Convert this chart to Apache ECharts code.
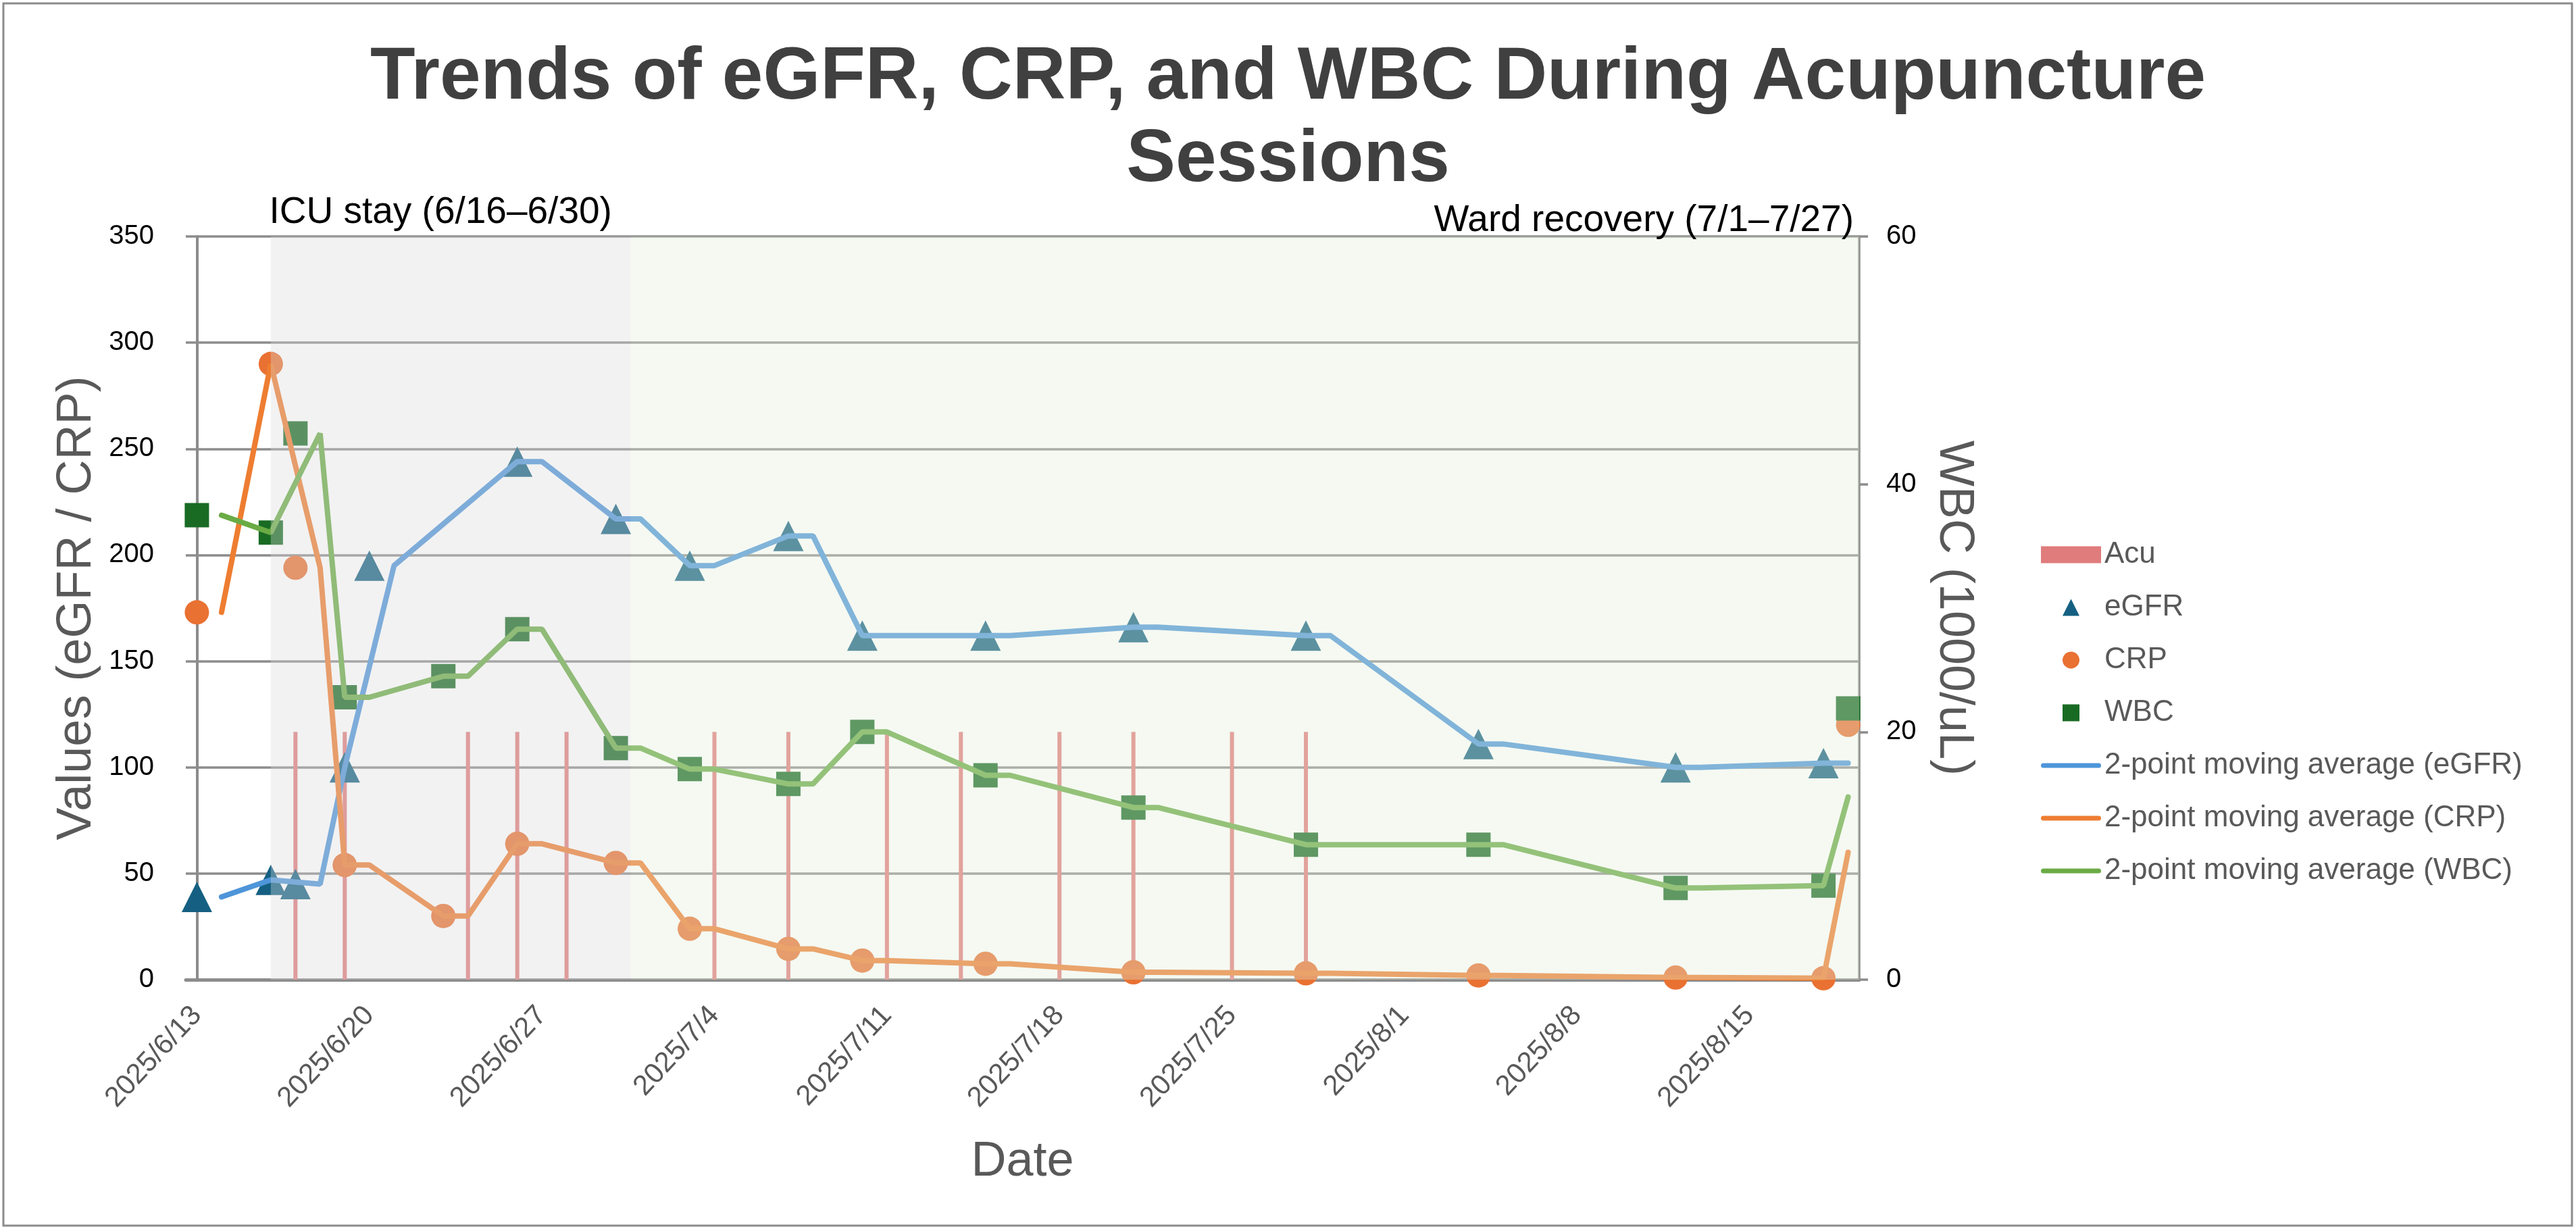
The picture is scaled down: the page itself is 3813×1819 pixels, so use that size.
<!DOCTYPE html>
<html>
<head>
<meta charset="utf-8">
<title>Trends of eGFR, CRP, and WBC During Acupuncture Sessions</title>
<script src="https://cdn.jsdelivr.net/npm/echarts@6/dist/echarts.min.js"></script>
<style>
  html, body { margin: 0; padding: 0; background: #fff; }
  #main { width: 3813px; height: 1819px; }
</style>
</head>
<body>
<div id="main"></div>
<script>
// lab results
const egfrDates = ["2025/6/13", "2025/6/16", "2025/6/17", "2025/6/19", "2025/6/20", "2025/6/26", "2025/6/30", "2025/7/3",
  "2025/7/7", "2025/7/10", "2025/7/15", "2025/7/21", "2025/7/28", "2025/8/4", "2025/8/12", "2025/8/18"];
const egfrValues = [39, 47, 45, 100, 195, 244, 217, 195, 209, 162, 162, 166, 162, 111, 100, 102];

// CRP and WBC share the same sampling days
const labDates = ["2025/6/13", "2025/6/16", "2025/6/17", "2025/6/19", "2025/6/23", "2025/6/26", "2025/6/30", "2025/7/3",
  "2025/7/7", "2025/7/10", "2025/7/15", "2025/7/21", "2025/7/28", "2025/8/4", "2025/8/12", "2025/8/18", "2025/8/19"];
const crpValues = [173, 290, 194, 54, 30, 64, 55, 24, 14.5, 9, 7.5, 3.5, 3, 2, 1, 0.7, 120];
const wbcValues = [37.5, 36.1, 44.1, 22.8, 24.5, 28.3, 18.7, 17.0, 15.8, 20.0, 16.5, 13.9, 10.9, 10.9, 7.4, 7.6, 21.9];

// 2-point moving average lines, as drawn
const maEgfrDates = ["2025/6/14", "2025/6/16", "2025/6/17", "2025/6/18", "2025/6/19", "2025/6/20", "2025/6/21", "2025/6/26",
  "2025/6/27", "2025/6/30", "2025/7/1", "2025/7/3", "2025/7/4", "2025/7/7", "2025/7/8", "2025/7/10", "2025/7/11",
  "2025/7/15", "2025/7/16", "2025/7/21", "2025/7/22", "2025/7/28", "2025/7/29", "2025/8/4", "2025/8/5", "2025/8/12",
  "2025/8/13", "2025/8/18", "2025/8/19"];
const maEgfrValues = [39, 47, 46, 45, 100, 147.5, 195, 244, 244, 217, 217, 195, 195, 209, 209, 162, 162,
  162, 162, 166, 166, 162, 162, 111, 111, 100, 100, 102, 102];

const maLabDates = ["2025/6/14", "2025/6/16", "2025/6/17", "2025/6/18", "2025/6/19", "2025/6/20", "2025/6/23", "2025/6/24",
  "2025/6/26", "2025/6/27", "2025/6/30", "2025/7/1", "2025/7/3", "2025/7/4", "2025/7/7", "2025/7/8", "2025/7/10",
  "2025/7/11", "2025/7/15", "2025/7/16", "2025/7/21", "2025/7/22", "2025/7/28", "2025/7/29", "2025/8/4", "2025/8/5",
  "2025/8/12", "2025/8/13", "2025/8/18", "2025/8/19"];
const maCrpValues = [173, 290, 242, 194, 54, 54, 30, 30, 64, 64, 55, 55, 24, 24, 14.5, 14.5, 9,
  9, 7.5, 7.5, 3.5, 3.5, 3, 3, 2, 2, 1, 1, 0.7, 60];
const maWbcValues = [37.5, 36.1, 40.1, 44.1, 22.8, 22.8, 24.5, 24.5, 28.3, 28.3, 18.7, 18.7, 17.0, 17.0, 15.8, 15.8, 20.0,
  20.0, 16.5, 16.5, 13.9, 13.9, 10.9, 10.9, 10.9, 10.9, 7.4, 7.4, 7.6, 14.75];

// acupuncture sessions (drawn against the WBC axis)
const acuDates = ["2025/6/17", "2025/6/19", "2025/6/24", "2025/6/26", "2025/6/28", "2025/7/4", "2025/7/7",
  "2025/7/11", "2025/7/14", "2025/7/18", "2025/7/21", "2025/7/25", "2025/7/28"];
const acuValues = [20, 20, 20, 20, 20, 20, 20, 20, 20, 20, 20, 20, 20];

const xTickLabels = ["2025/6/13", "2025/6/20", "2025/6/27", "2025/7/4", "2025/7/11", "2025/7/18",
  "2025/7/25", "2025/8/1", "2025/8/8", "2025/8/15"];

const icuStart = "2025/6/16";
const icuEnd = "2025/6/30";

// day numbers counted from the first sample
const DAY = 86400000;
const day0 = Date.UTC(2025, 5, 13);
function dayOf(s) {
  const [y, m, d] = s.split("/").map(Number);
  return (Date.UTC(y, m - 1, d) - day0) / DAY;
}
function pairs(dates, values) {
  return dates.map((d, i) => [dayOf(d), values[i]]);
}

const xMin = -0.45;
const xMax = dayOf("2025/8/19") + 0.45;
const phaseSplit = dayOf(icuEnd) + 0.6;
const xTickDays = xTickLabels.map(dayOf);

const font = "'Liberation Sans', Arial, sans-serif";
const axisGray = "#8c8c8c";
const textGray = "#595959";

const triangleIcon = "path://M5,0 L10,10 L0,10 Z";
const circleIcon = "path://M10,5 A5,5 0 1 1 0,5 A5,5 0 1 1 10,5 Z";
const squareIcon = "path://M0,0 L10,0 L10,10 L0,10 Z";
const lineIcon = "path://M3.5,0 L85.5,0 A3.5,3.5 0 0 1 85.5,7 L3.5,7 A3.5,3.5 0 0 1 3.5,0 Z";

const options = {
  backgroundColor: "#ffffff",
  textStyle: { fontFamily: font },
  title: {
    text: "Trends of eGFR, CRP, and WBC During Acupuncture\nSessions",
    left: "center",
    top: 50,
    textStyle: { fontFamily: font, fontSize: 109, fontWeight: "bold", color: "#404040", lineHeight: 122 },
  },
  graphic: [
    {
      type: "rect",
      shape: { x: 5, y: 5, width: 3802, height: 1809 },
      style: { fill: "none", stroke: axisGray, lineWidth: 3 },
      silent: true,
    },
  ],
  legend: {
    orient: "vertical",
    left: 3016,
    top: 794,
    itemWidth: 89,
    itemHeight: 25,
    itemGap: 34,
    textStyle: { fontFamily: font, fontSize: 44, color: textGray, lineHeight: 44 },
    data: [
      { name: "Acu", icon: "rect" },
      { name: "eGFR", icon: triangleIcon },
      { name: "CRP", icon: circleIcon },
      { name: "WBC", icon: squareIcon },
      { name: "2-point moving average (eGFR)", icon: lineIcon },
      { name: "2-point moving average (CRP)", icon: lineIcon },
      { name: "2-point moving average (WBC)", icon: lineIcon },
    ],
  },
  grid: { left: 275, right: 1061, top: 350, bottom: 369 },
  xAxis: {
    type: "value",
    min: xMin,
    max: xMax,
    name: "Date",
    nameLocation: "middle",
    nameGap: 234,
    nameTextStyle: { fontFamily: font, fontSize: 72, color: textGray },
    axisLine: { show: true, lineStyle: { color: axisGray, width: 5 } },
    axisTick: { show: false },
    splitLine: { show: false },
    axisLabel: {
      customValues: xTickDays,
      rotate: 47,
      margin: 46,
      fontSize: 42,
      color: textGray,
      fontFamily: font,
      formatter: (v) => xTickLabels[xTickDays.indexOf(Math.round(v))] || "",
    },
  },
  yAxis: [
    {
      type: "value",
      min: 0,
      max: 350,
      interval: 50,
      name: "Values (eGFR / CRP)",
      nameLocation: "middle",
      nameGap: 120,
      nameTextStyle: { fontFamily: font, fontSize: 72, color: textGray },
      axisLine: { show: true, lineStyle: { color: axisGray, width: 4 } },
      axisTick: { show: false },
      axisLabel: { fontSize: 40, color: "#000", margin: 47, fontFamily: font },
      splitLine: { lineStyle: { color: axisGray, width: 3.5 } },
    },
    {
      type: "value",
      min: 0,
      max: 60,
      interval: 20,
      position: "right",
      name: "WBC (1000/uL)",
      nameLocation: "middle",
      nameRotate: -90,
      nameGap: 104,
      nameTextStyle: { fontFamily: font, fontSize: 72, color: textGray },
      axisLine: { show: true, lineStyle: { color: axisGray, width: 3.5 } },
      axisTick: { show: true, length: 13, lineStyle: { color: axisGray, width: 3.5 } },
      axisLabel: { fontSize: 40, color: "#000", margin: 40, fontFamily: font },
      splitLine: { show: false },
    },
  ],
  series: [
    {
      name: "Acu",
      type: "bar",
      yAxisIndex: 1,
      barWidth: 6,
      itemStyle: { color: "#E07C7C" },
      data: pairs(acuDates, acuValues),
      z: 1,
    },
    {
      name: "eGFR",
      type: "scatter",
      symbol: "triangle",
      symbolSize: 45,
      itemStyle: { color: "#156082", opacity: 1 },
      data: pairs(egfrDates, egfrValues),
      z: 3,
    },
    {
      name: "CRP",
      type: "scatter",
      symbol: "circle",
      symbolSize: 36,
      itemStyle: { color: "#E97132", opacity: 1 },
      data: pairs(labDates, crpValues),
      z: 3,
    },
    {
      name: "WBC",
      type: "scatter",
      yAxisIndex: 1,
      symbol: "rect",
      symbolSize: 36,
      itemStyle: { color: "#196B24", opacity: 1 },
      data: pairs(labDates, wbcValues),
      z: 3,
    },
    {
      name: "2-point moving average (eGFR)",
      type: "line",
      symbol: "none",
      lineStyle: { color: "#4E95D9", width: 8, cap: "round" },
      itemStyle: { color: "#4E95D9" },
      data: pairs(maEgfrDates, maEgfrValues),
      z: 4,
    },
    {
      name: "2-point moving average (CRP)",
      type: "line",
      symbol: "none",
      lineStyle: { color: "#EE7D31", width: 8, cap: "round" },
      itemStyle: { color: "#EE7D31" },
      data: pairs(maLabDates, maCrpValues),
      z: 4,
    },
    {
      name: "2-point moving average (WBC)",
      type: "line",
      yAxisIndex: 1,
      symbol: "none",
      lineStyle: { color: "#6AAB45", width: 8, cap: "round" },
      itemStyle: { color: "#6AAB45" },
      data: pairs(maLabDates, maWbcValues),
      z: 4,
    },
    {
      // translucent phase shading laid over everything
      name: "phases",
      type: "line",
      data: [],
      z: 10,
      silent: true,
      markArea: {
        z: 10,
        silent: true,
        data: [
          [
            {
              xAxis: dayOf(icuStart),
              itemStyle: { color: "rgba(217,217,217,0.345)" },
              label: {
                show: true,
                position: ["50%", 0],
                align: "center",
                verticalAlign: "bottom",
                offset: [-15, -8],
                formatter: "ICU stay (6/16\u20136/30)",
                fontSize: 55,
                color: "#000",
                fontFamily: font,
              },
            },
            { xAxis: phaseSplit },
          ],
          [
            {
              xAxis: phaseSplit,
              itemStyle: { color: "rgba(226,239,218,0.35)" },
              label: {
                show: true,
                position: ["100%", 0],
                align: "right",
                verticalAlign: "bottom",
                offset: [-8, 4],
                formatter: "Ward recovery (7/1\u20137/27)",
                fontSize: 55,
                color: "#000",
                fontFamily: font,
              },
            },
            { xAxis: xMax },
          ],
        ],
      },
    },
  ],
};

let myChart = echarts.init(document.getElementById("main"));
myChart.setOption(options);
</script>
</body>
</html>
